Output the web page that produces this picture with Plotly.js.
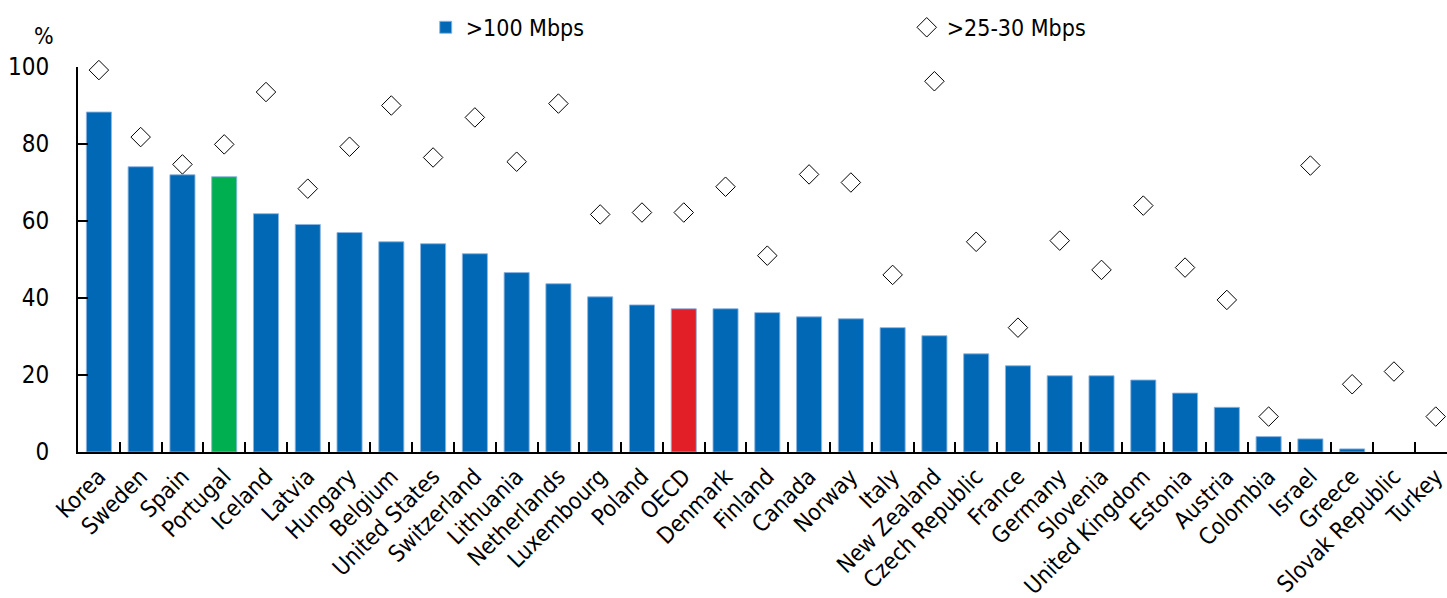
<!DOCTYPE html>
<html>
<head>
<meta charset="utf-8">
<script src="https://cdn.plot.ly/plotly-3.0.1.min.js"></script>
<style>html,body{margin:0;padding:0;overflow:hidden;background:#fff}</style>
</head>
<body>
<div id="chart" style="width:1447px;height:598px"></div>
<script>
const countries = ["Korea","Sweden","Spain","Portugal","Iceland","Latvia","Hungary","Belgium","United States","Switzerland","Lithuania","Netherlands","Luxembourg","Poland","OECD","Denmark","Finland","Canada","Norway","Italy","New Zealand","Czech Republic","France","Germany","Slovenia","United Kingdom","Estonia","Austria","Colombia","Israel","Greece","Slovak Republic","Turkey"];
const over100 = [88.3,74.1,72.0,71.5,61.9,59.1,57.0,54.6,54.1,51.5,46.6,43.7,40.3,38.2,37.2,37.2,36.2,35.1,34.6,32.3,30.2,25.5,22.4,19.8,19.8,18.7,15.3,11.6,4.0,3.4,0.8,null,null];
const over25 = [99.2,81.8,74.7,79.9,93.5,68.4,79.3,90.0,76.5,86.9,75.4,90.5,61.7,62.2,62.2,68.9,51.0,72.1,70.0,46.0,96.3,54.6,32.3,54.9,47.3,64.0,47.9,39.5,9.2,74.4,17.6,20.9,9.2];
const seriesNames = [">100 Mbps", ">25-30 Mbps"];

const blue = "rgb(0,104,180)";
const barColors = countries.map(c => c === "Portugal" ? "rgb(0,176,80)" : (c === "OECD" ? "rgb(226,30,38)" : blue));

const FONT = "'Liberation Sans Narrow','Arial Narrow','DejaVu Sans Condensed','Liberation Sans',Arial,sans-serif";

const traces = [
  {
    type: "bar", x: countries, y: over100, name: seriesNames[0],
    marker: {color: barColors, line: {color: "rgba(140,180,225,0.9)", width: 1}},
    width: 0.6, hoverinfo: "x+y"
  },
  {
    type: "scatter", mode: "markers", x: countries, y: over25, name: seriesNames[1],
    marker: {symbol: "diamond-open", size: 15, color: "#000", line: {color: "#000", width: 1}},
    cliponaxis: false
  }
];

const layout = {
  width: 1447, height: 598,
  margin: {l: 78, r: 0, t: 67, b: 146},
  paper_bgcolor: "#fff", plot_bgcolor: "#fff",
  font: {family: FONT, size: 24, color: "#000"},
  showlegend: true,
  legend: {orientation: "h", x: 0.254, xanchor: "left", y: 1.103, yanchor: "middle",
           entrywidth: 436, font: {family: FONT, size: 23, color: "#000"}, bgcolor: "rgba(0,0,0,0)"},
  bargap: 0.4,
  xaxis: {
    type: "category", range: [-0.5, 32.27],
    showline: true, linecolor: "#000", linewidth: 2,
    ticks: "inside", tickson: "boundaries", ticklen: 10, tickwidth: 2, tickcolor: "#000",
    tickangle: -45, tickfont: {family: FONT, size: 23, color: "#000"},
    showgrid: false, zeroline: false
  },
  yaxis: {
    range: [0, 100], tickvals: [0,20,40,60,80,100],
    showline: true, linecolor: "#000", linewidth: 2,
    ticks: "inside", ticklen: 10, tickwidth: 2, tickcolor: "#000",
    ticklabelstandoff: 22,
    tickfont: {family: FONT, size: 24, color: "#000"},
    showgrid: false, zeroline: false
  },
  annotations: [
    {text: "%", xref: "paper", yref: "paper", x: -0.025, y: 1.08, xanchor: "center", yanchor: "middle",
     showarrow: false, font: {family: FONT, size: 23, color: "#000"}}
  ]
};

Plotly.newPlot("chart", traces, layout, {displayModeBar: false, staticPlot: true});
</script>
</body>
</html>
